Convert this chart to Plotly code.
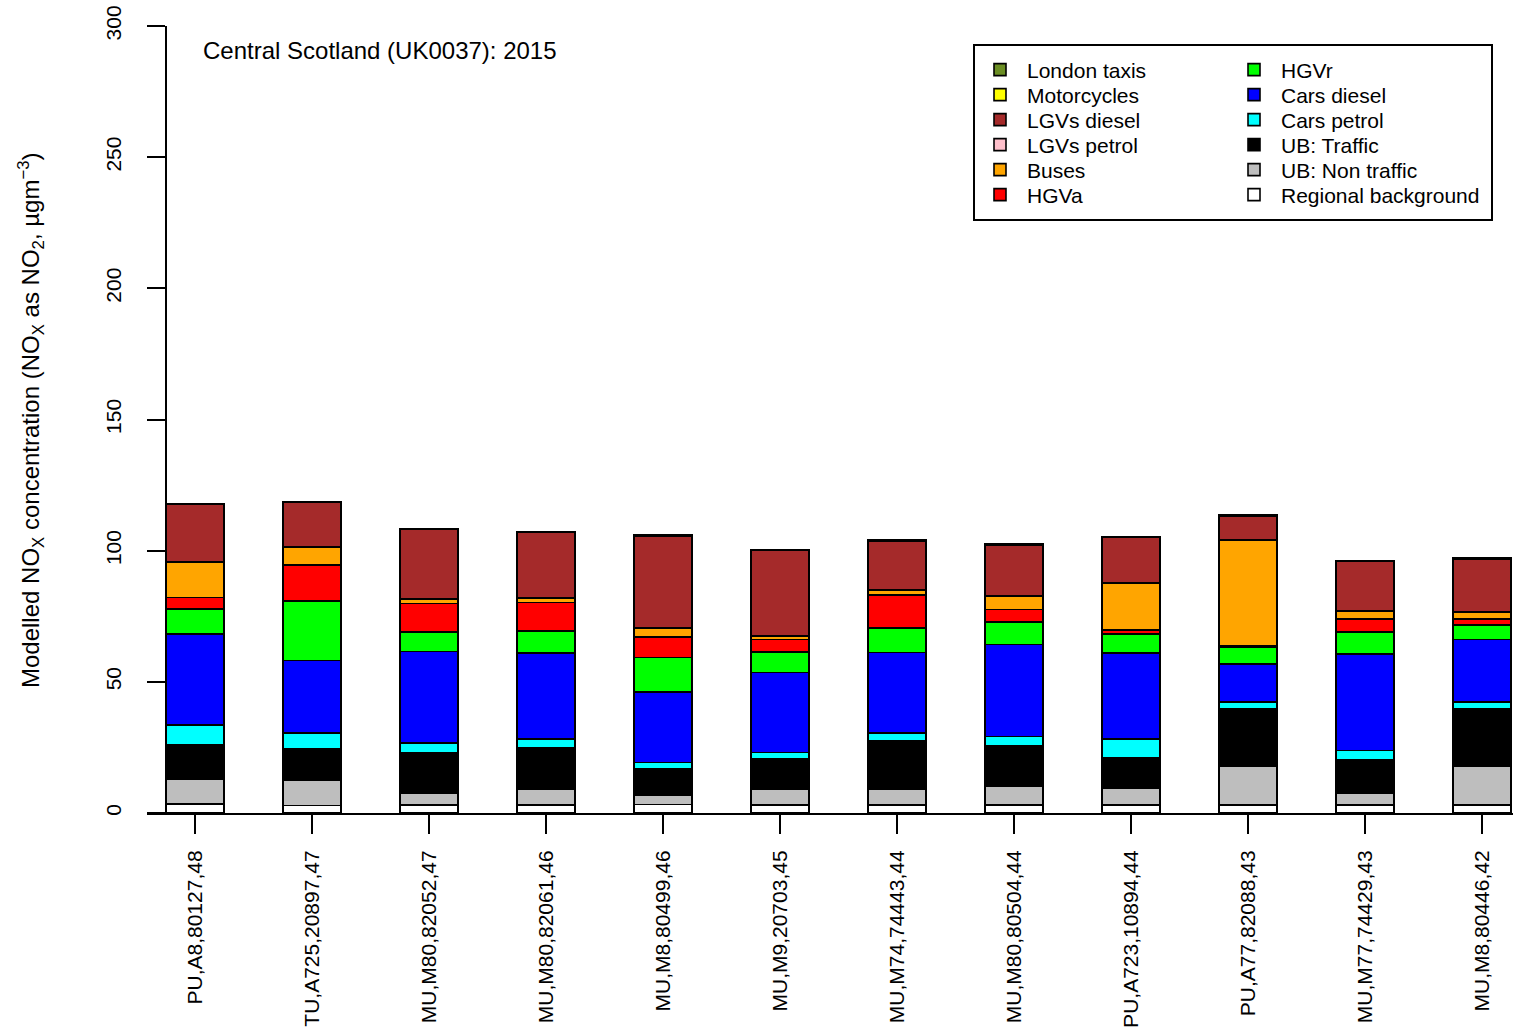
import plotly.graph_objects as go

sites = ["PU,A8,80127,48", "TU,A725,20897,47", "MU,M80,82052,47", "MU,M80,82061,46",
         "MU,M8,80499,46", "MU,M9,20703,45", "MU,M74,74443,44", "MU,M80,80504,44",
         "PU,A723,10894,44", "PU,A77,82088,43", "MU,M77,74429,43", "MU,M8,80446,42"]

regional_background = [3.4, 2.9, 3.0, 3.0, 3.3, 3.0, 3.0, 3.0, 3.0, 3.0, 3.0, 3.0]
ub_non_traffic = [9.6, 9.6, 4.6, 5.9, 3.6, 6.0, 6.0, 7.3, 6.3, 14.8, 4.4, 14.8]
ub_traffic = [12.9, 12.0, 15.4, 16.0, 9.9, 11.6, 18.6, 15.2, 11.9, 22.1, 12.8, 22.1]
cars_petrol = [7.6, 6.0, 3.6, 3.4, 2.5, 2.5, 3.0, 3.6, 7.0, 2.5, 3.7, 2.4]
cars_diesel = [34.8, 27.6, 35.0, 32.7, 26.9, 30.4, 30.6, 35.2, 32.9, 14.3, 36.8, 23.9]
hgvr = [9.4, 22.8, 7.4, 8.4, 13.1, 7.9, 9.4, 8.6, 7.1, 6.4, 8.2, 5.4]
hgva = [4.4, 13.7, 10.8, 10.9, 7.9, 4.7, 12.4, 4.7, 1.5, 0.5, 5.0, 2.4]
buses = [13.4, 6.6, 1.8, 1.6, 3.2, 1.4, 2.1, 5.1, 17.8, 40.4, 3.2, 2.5]
lgvs_petrol = [0.1, 0.1, 0.1, 0.1, 0.1, 0.1, 0.1, 0.1, 0.1, 0.1, 0.1, 0.1]
lgvs_diesel = [22.0, 17.2, 26.4, 24.9, 35.2, 32.6, 18.6, 19.4, 17.4, 9.2, 18.8, 20.2]
motorcycles = [0.3, 0.3, 0.3, 0.3, 0.3, 0.3, 0.3, 0.3, 0.3, 0.3, 0.3, 0.3]
london_taxis = [0, 0, 0, 0, 0, 0, 0, 0, 0, 0, 0, 0]

y_ticks = [0, 50, 100, 150, 200, 250, 300]

# stacking order bottom -> top
series = [
    ("Regional background", regional_background, "#FFFFFF"),
    ("UB: Non traffic", ub_non_traffic, "#BEBEBE"),
    ("UB: Traffic", ub_traffic, "#000000"),
    ("Cars petrol", cars_petrol, "#00FFFF"),
    ("Cars diesel", cars_diesel, "#0000FF"),
    ("HGVr", hgvr, "#00FF00"),
    ("HGVa", hgva, "#FF0000"),
    ("Buses", buses, "#FFA500"),
    ("LGVs petrol", lgvs_petrol, "#FFC0CB"),
    ("LGVs diesel", lgvs_diesel, "#A52A2A"),
    ("Motorcycles", motorcycles, "#FFFF00"),
    ("London taxis", london_taxis, "#6B8E23"),
]

FONT = "Liberation Sans, Arial, sans-serif"
W, H = 1513, 1031
L, R, T, B = 147, 0, 26, 218
pw = W - L - R
ph = H - T - B


def px_x(p):
    return (p - L) / pw


def px_y(p):
    return (H - B - p) / ph


fig = go.Figure()
n = len(series)
legend_layouts = {}
for i, (name, vals, col) in enumerate(series):
    # legend reads top-of-stack first, column-wise, two columns of six
    k = n - 1 - i
    colx = 973 if k < 6 else 1227
    rowy = 70 + 25 * (k % 6)
    key = f"legend{k + 2}"
    legend_layouts[key] = dict(
        x=px_x(colx), y=px_y(rowy), xanchor="left", yanchor="middle",
        bgcolor="rgba(0,0,0,0)", borderwidth=0, itemwidth=44,
        font=dict(family=FONT, size=21),
    )
    fig.add_trace(go.Bar(
        x=sites, y=vals, name=name, width=0.5, showlegend=True,
        marker=dict(color=col, line=dict(color="black", width=1.6)),
        legend=key,
    ))

fig.update_layout(
    width=W, height=H,
    margin=dict(l=L, r=R, t=T, b=B, pad=0),
    barmode="stack", showlegend=True,
    plot_bgcolor="white", paper_bgcolor="white",
    font=dict(family=FONT, size=21, color="black"),
    xaxis=dict(
        type="category", range=[-0.41, 11.265],
        showline=True, linecolor="black", linewidth=2,
        ticks="outside", ticklen=19, tickwidth=2, tickcolor="black",
        tickangle=-90, showgrid=False, zeroline=False, ticklabelstandoff=8,
        tickfont=dict(family=FONT, size=21),
    ),
    yaxis=dict(
        range=[0, 300], tickvals=y_ticks, ticktext=[str(v) for v in y_ticks],
        anchor="free", position=px_x(166),
        showline=True, linecolor="black", linewidth=2,
        ticks="outside", ticklen=18, tickwidth=2, tickcolor="black",
        tickangle=-90, showgrid=False, zeroline=False, ticklabelstandoff=18,
        tickfont=dict(family=FONT, size=21),
    ),
    shapes=[dict(
        type="rect", xref="paper", yref="paper",
        x0=px_x(974), x1=px_x(1492), y0=px_y(220), y1=px_y(45),
        line=dict(color="black", width=2), fillcolor="rgba(0,0,0,0)",
    )],
    annotations=[
        dict(text="Central Scotland (UK0037): 2015", xref="paper", yref="paper",
             x=px_x(201), y=px_y(51), xanchor="left", yanchor="middle",
             showarrow=False, font=dict(family=FONT, size=24)),
        dict(text="Modelled NO<sub>X</sub> concentration (NO<sub>X</sub> as NO<sub>2</sub>, µgm<sup>−3</sup>)",
             xref="paper", yref="paper", x=px_x(31), y=px_y(420),
             xanchor="center", yanchor="middle", textangle=-90,
             showarrow=False, font=dict(family=FONT, size=24)),
    ],
    **legend_layouts,
)

fig.write_html("out.html")
